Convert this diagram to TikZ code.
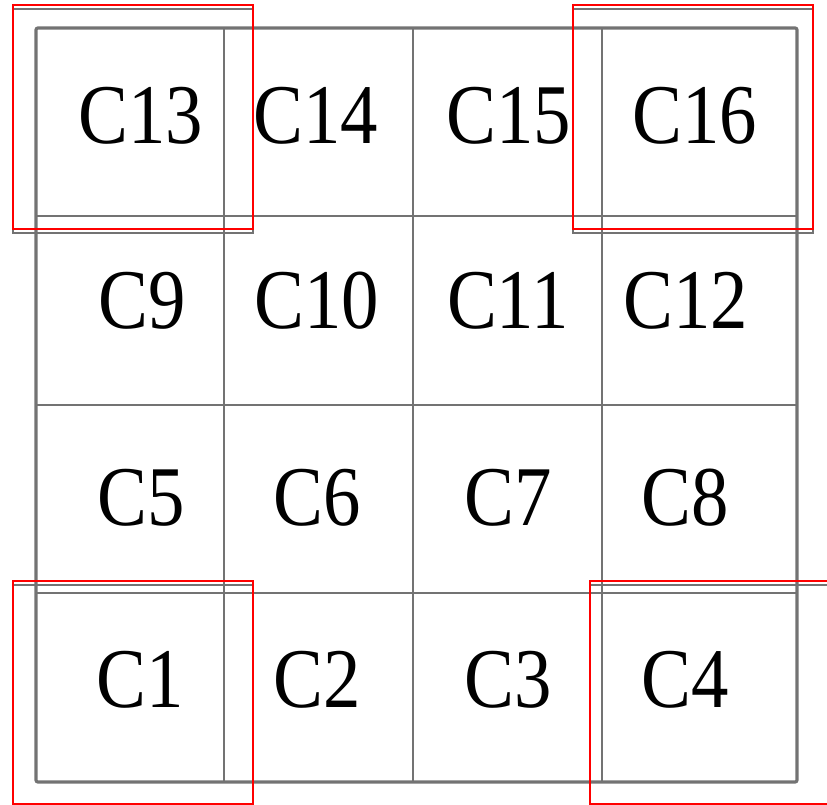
\documentclass[tikz,border=0pt]{standalone}
\usepackage{fontspec}
\usepackage{tikz}
\newfontfamily\cellfont[FakeStretch=0.88]{Liberation Serif}
\definecolor{grid_gray}{RGB}{115,115,115}
\tikzset{
  cell/.style={inner sep=0pt, font=\cellfont\fontsize{85}{85}\selectfont},
  gridline/.style={draw=grid_gray, line width=2pt},
  frame/.style={draw=grid_gray, line width=3.2pt, rounded corners=2pt},
  shadowbox/.style={draw=grid_gray, line width=1.6pt},
  corner/.style={draw=red, line width=2pt}
}
\begin{document}
\begin{tikzpicture}[x=1pt, y=-1pt]
  \useasboundingbox (0,0) rectangle (827,805);
  % Inner grid
  \draw[gridline] (224,28) -- (224,782);
  \draw[gridline] (413,28) -- (413,782);
  \draw[gridline] (602,28) -- (602,782);
  \draw[gridline] (36,216) -- (797,216);
  \draw[gridline] (36,405) -- (797,405);
  \draw[gridline] (36,593) -- (797,593);
  % Outer frame
  \draw[frame] (36,28) rectangle (797,782);
  % Cell labels
  \node[cell] (c13) at (141,116) {C13};
  \node[cell] (c14) at (316,116) {C14};
  \node[cell] (c15) at (509,116) {C15};
  \node[cell] (c16) at (695,116) {C16};
  \node[cell] (c9)  at (142,301) {C9};
  \node[cell] (c10) at (317,301) {C10};
  \node[cell] (c11) at (508,301) {C11};
  \node[cell] (c12) at (686,301) {C12};
  \node[cell] (c5)  at (141,498) {C5};
  \node[cell] (c6)  at (317,498) {C6};
  \node[cell] (c7)  at (508,498) {C7};
  \node[cell] (c8)  at (685,498) {C8};
  \node[cell] (c1)  at (140,680) {C1};
  \node[cell] (c2)  at (317,680) {C2};
  \node[cell] (c3)  at (508,680) {C3};
  \node[cell] (c4)  at (685,680) {C4};
  % Corner markers
  \draw[shadowbox] (13,9) rectangle (253,233);
  \draw[shadowbox] (573,9) rectangle (813,233);
  \draw[shadowbox] (13,585) rectangle (253,809);
  \draw[shadowbox] (590,585) rectangle (830,809);
  \draw[corner] (13,5) rectangle (253,229);
  \draw[corner] (573,5) rectangle (813,229);
  \draw[corner] (13,581) rectangle (253,804);
  \draw[corner] (590,581) rectangle (830,804);
\end{tikzpicture}
\end{document}
